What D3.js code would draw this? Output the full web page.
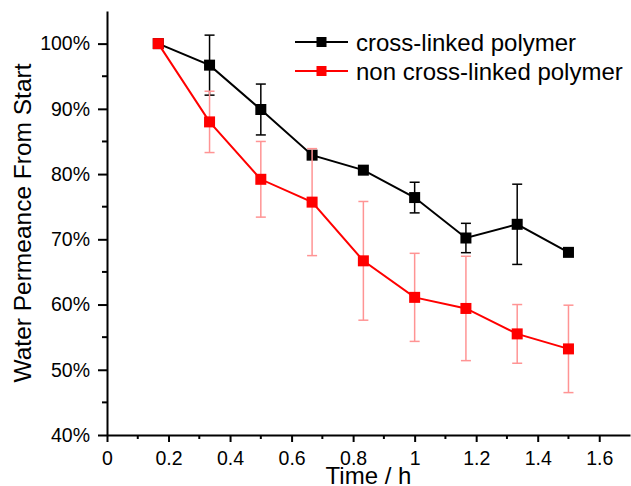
<!DOCTYPE html>
<html>
<head>
<meta charset="utf-8">
<script src="https://cdn.jsdelivr.net/npm/d3@7"></script>
<style>
  body { margin: 0; background: white; }
  svg { display: block; font-family: "Liberation Sans", Arial, sans-serif; }
</style>
</head>
<body>
<svg id="chart" width="631" height="486"></svg>
<script>
// Data
const times = [1/6, 2/6, 3/6, 4/6, 5/6, 1, 7/6, 8/6, 9/6];
const crossLinked = [100, 96.7, 89.9, 82.9, 80.6, 76.4, 70.2, 72.3, 68.0];
const crossLinkedErr = [0, 4.6, 3.9, 0, 0, 2.35, 2.25, 6.15, 0];
const nonCrossLinked = [100, 88.0, 79.2, 75.7, 66.7, 61.1, 59.4, 55.5, 53.2];
const nonCrossLinkedErr = [0, 4.7, 5.8, 8.2, 9.1, 6.75, 8.0, 4.5, 6.7];
const xTicks = [0, 0.2, 0.4, 0.6, 0.8, 1, 1.2, 1.4, 1.6];
const yTicks = [40, 50, 60, 70, 80, 90, 100];

const series = [
  { name: "cross-linked polymer", values: crossLinked, err: crossLinkedErr, color: "#000000", errColor: "#000000" },
  { name: "non cross-linked polymer", values: nonCrossLinked, err: nonCrossLinkedErr, color: "#ff0000", errColor: "#ff9494" }
];

const width = 631, height = 486;
const margin = { left: 107, right: 1, top: 11, bottom: 51 };

const svg = d3.select("#chart");

const x = d3.scaleLinear().domain([0, 1.7]).range([margin.left, width - margin.right]);
const y = d3.scaleLinear().domain([40, 105]).range([height - margin.bottom, margin.top]);

// minor ticks
const xMinor = d3.range(0.1, 1.7, 0.2);
const yMinor = d3.range(45, 105, 10);

const xAxis = svg.append("g")
  .attr("transform", `translate(0,${y(40)})`)
  .call(d3.axisBottom(x).tickValues(xTicks).tickFormat(d3.format("")).tickSize(7).tickSizeOuter(0).tickPadding(9));
xAxis.append("g").selectAll("line").data(xMinor).enter().append("line")
  .attr("x1", d => x(d)).attr("x2", d => x(d)).attr("y1", 0).attr("y2", 4)
  .attr("stroke", "#000").attr("stroke-width", 2);

const yAxis = svg.append("g")
  .attr("transform", `translate(${x(0)},0)`)
  .call(d3.axisLeft(y).tickValues(yTicks).tickFormat(d => d + "%").tickSize(9).tickSizeOuter(0).tickPadding(8));
yAxis.append("g").selectAll("line").data(yMinor).enter().append("line")
  .attr("y1", d => y(d)).attr("y2", d => y(d)).attr("x1", 0).attr("x2", -5)
  .attr("stroke", "#000").attr("stroke-width", 2);

svg.selectAll(".domain").attr("stroke", "#000").attr("stroke-width", 2);
svg.selectAll(".tick line").attr("stroke", "#000").attr("stroke-width", 2);
svg.selectAll(".tick text").attr("font-size", "19.5px").attr("fill", "#000")
  .attr("font-family", "Liberation Sans, Arial, sans-serif");

// axis titles
svg.append("text")
  .attr("x", (x(0) + x(1.7)) / 2)
  .attr("y", 484)
  .attr("text-anchor", "middle")
  .attr("font-size", "24px")
  .text("Time / h");

svg.append("text")
  .attr("transform", `translate(31,${(y(40) + y(105)) / 2}) rotate(-90)`)
  .attr("text-anchor", "middle")
  .attr("font-size", "24.5px")
  .text("Water Permeance From Start");

const line = d3.line().x(d => x(d[0])).y(d => y(d[1]));
const cap = 5;

series.forEach(s => {
  const pts = times.map((t, i) => [t, s.values[i], s.err[i]]);
  const g = svg.append("g");

  // error bars
  const eb = g.selectAll(".err").data(pts.filter(p => p[2] > 0)).enter().append("g")
    .attr("stroke", s.errColor).attr("stroke-width", 1.5);
  eb.append("line")
    .attr("x1", d => x(d[0])).attr("x2", d => x(d[0]))
    .attr("y1", d => y(d[1] - d[2])).attr("y2", d => y(d[1] + d[2]));
  eb.append("line")
    .attr("x1", d => x(d[0]) - cap).attr("x2", d => x(d[0]) + cap)
    .attr("y1", d => y(d[1] + d[2])).attr("y2", d => y(d[1] + d[2]));
  eb.append("line")
    .attr("x1", d => x(d[0]) - cap).attr("x2", d => x(d[0]) + cap)
    .attr("y1", d => y(d[1] - d[2])).attr("y2", d => y(d[1] - d[2]));

  g.append("path")
    .datum(pts)
    .attr("d", line)
    .attr("fill", "none")
    .attr("stroke", s.color)
    .attr("stroke-width", 2);

  g.selectAll("rect").data(pts).enter().append("rect")
    .attr("x", d => x(d[0]) - 5.5).attr("y", d => y(d[1]) - 5.5)
    .attr("width", 11).attr("height", 11)
    .attr("fill", s.color);
});

// legend
const legend = svg.append("g");
series.forEach((s, i) => {
  const ly = 42 + i * 29;
  legend.append("line")
    .attr("x1", 295).attr("x2", 348).attr("y1", ly).attr("y2", ly)
    .attr("stroke", s.color).attr("stroke-width", 2);
  legend.append("rect")
    .attr("x", 321.5 - 5).attr("y", ly - 5).attr("width", 10).attr("height", 10)
    .attr("fill", s.color);
  legend.append("text")
    .attr("x", 356).attr("y", ly + 8.5)
    .attr("font-size", "24px")
    .text(s.name);
});
</script>
</body>
</html>
